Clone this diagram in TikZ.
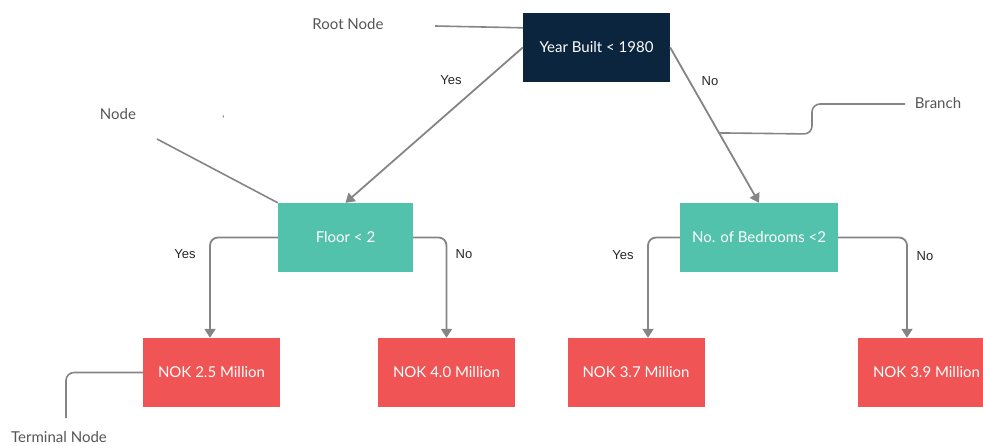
\documentclass[tikz,border=0pt]{standalone}
\usepackage{fontspec}
\setmainfont{Lato}
\newfontfamily\arialf{Liberation Sans}
\usetikzlibrary{arrows.meta}
\definecolor{navy}{HTML}{0B253E}
\definecolor{teal2}{HTML}{52C2AC}
\definecolor{red2}{HTML}{F05454}
\definecolor{linegray}{HTML}{858585}
\definecolor{labgray}{HTML}{555555}
\tikzset{
  box/.style={minimum height=69pt, inner sep=0pt, text=white, font=\fontsize{15}{17}\selectfont},
  rootbox/.style={box, fill=navy, minimum width=147pt},
  testbox/.style={box, fill=teal2},
  leafbox/.style={box, fill=red2, minimum width=137pt},
  conn/.style={draw=linegray, line width=1.8pt, -{Triangle[width=11pt,length=9pt]}},
  annot/.style={draw=linegray, line width=1.6pt},
  anntext/.style={text=labgray, font=\fontsize{15}{17}\selectfont, inner sep=0pt},
  yn/.style={text=black!85, font=\arialf\fontsize{13}{15}\selectfont, inner sep=0pt}
}
\begin{document}
\begin{tikzpicture}[x=1pt,y=-1pt]
\useasboundingbox (0,0) rectangle (983,445);
\node[rootbox] (root) at (596.5,47.5) {Year Built < 1980};
\node[testbox, minimum width=135pt] (floor) at (345.5,237.5) {Floor < 2};
\node[testbox, minimum width=158pt] (bed) at (759,237.5) {No. of Bedrooms <2};
\node[leafbox] (l1) at (211.5,372.5) {NOK 2.5 Million};
\node[leafbox] (l2) at (446.5,372.5) {NOK 4.0 Million};
\node[leafbox] (l3) at (636,372.5) {NOK 3.7 Million};
\node[leafbox] (l4) at (926.5,372.5) {NOK 3.9 Million};

\draw[conn] (root.west) -- (floor.north);
\draw[conn] (root.east) -- coordinate[pos=0.55] (bp) (bed.north);
\draw[conn, rounded corners=8pt] (floor.west) -| ([xshift=-1.5pt]l1.north);
\draw[conn, rounded corners=8pt] (floor.east) -| (l2.north);
\draw[conn, rounded corners=8pt] (bed.west) -| ([xshift=12pt]l3.north);
\draw[conn, rounded corners=8pt] (bed.east) -| ([xshift=-19.5pt]l4.north);

\node[yn] (y1) at (451,80) {Yes};
\node[yn] (n1) at (710,81) {No};
\node[yn] (y2) at (185,254) {Yes};
\node[yn] (n2) at (464,254) {No};
\node[yn] (y3) at (623,255) {Yes};
\node[yn] (n3) at (925,256) {No};

\node[anntext] (tRoot) at (348,24) {Root Node};
\node[anntext] (tNode) at (118,114) {Node};
\node[anntext] (tBranch) at (938,103) {Branch};
\node[anntext] (tTerm) at (59,437) {Terminal Node};

\coordinate (aRoot) at (435,26);
\coordinate (aNode) at (157,139);
\coordinate (aBranch) at (905,104);
\coordinate (aTerm) at (66,418);
\draw[annot] (aRoot) -- ([yshift=-15pt]root.north west);
\draw[annot] (aNode) -- (floor.north west);
\draw[annot, rounded corners=8pt] (aBranch) -- (812,104) -- (812,134) -- (bp);
\draw[annot, rounded corners=8pt] (l1.west) -| (aTerm);
\coordinate (tick) at (223,115);
\draw[linegray, line width=0.8pt] (tick) -- ++(0.6,2.5);
\end{tikzpicture}
\end{document}
